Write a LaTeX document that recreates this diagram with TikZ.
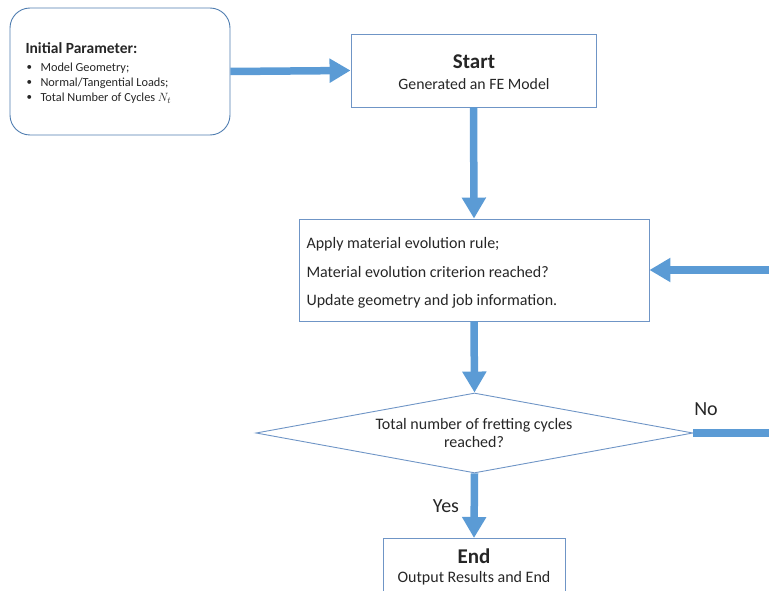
\documentclass[tikz,border=0pt]{standalone}
\usepackage{fontspec}
\setmainfont{Carlito}
\usetikzlibrary{arrows.meta,shapes.geometric}
\definecolor{flowblue}{HTML}{5B9BD5}
\definecolor{boxline}{HTML}{6F95C6}
\definecolor{roundline}{HTML}{4F7DB0}
\definecolor{txt}{HTML}{262626}
\begin{document}
\begin{tikzpicture}[x=1pt,y=-1pt,
  flow/.style={draw=flowblue,line width=7.5pt,-{Triangle[length=21pt,width=23pt]}},
  plainflow/.style={draw=flowblue,line width=7.5pt},
  procbox/.style={draw=boxline,line width=0.9pt,rectangle,inner sep=0pt},
  decision/.style={draw=boxline,line width=0.9pt,diamond,inner sep=0pt},
  inputbox/.style={draw=roundline,line width=0.9pt,rectangle,rounded corners=20pt,inner sep=0pt},
  every node/.style={text=txt}]
\useasboundingbox (0,0) rectangle (769,591);
\clip (0,0) rectangle (769,591);

% boxes
\node[inputbox,minimum width=220pt,minimum height=127pt] (init) at (120,71.5) {};
\node[procbox,minimum width=245pt,minimum height=73pt] (start) at (473.5,70.5) {};
\node[procbox,minimum width=350pt,minimum height=102pt] (apply) at (474,270) {};
\node[decision,minimum width=437pt,minimum height=80pt] (check) at (474.5,433) {};
\node[procbox,minimum width=182pt,minimum height=80pt,anchor=north] (finish) at (474,538) {};

% texts of the input box
\node[anchor=west,font=\fontsize{15.5}{18}\selectfont\bfseries] (initT) at (22,48) {Initial Parameter:};
\node[anchor=west,font=\fontsize{11}{12}\selectfont] (b1) at (23,68) {\textbullet};
\node[anchor=west,font=\fontsize{11}{12}\selectfont] (b2) at (23,83) {\textbullet};
\node[anchor=west,font=\fontsize{11}{12}\selectfont] (b3) at (23,98) {\textbullet};
\node[anchor=west,font=\fontsize{12.3}{14}\selectfont] (i1) at (37,68) {Model Geometry;};
\node[anchor=west,font=\fontsize{12.3}{14}\selectfont] (i2) at (37,83) {Normal/Tangential Loads;};
\node[anchor=west,font=\fontsize{12.3}{14}\selectfont] (i3) at (37,98) {Total Number of Cycles $N_t$};

% start box texts
\node[font=\fontsize{21}{24}\selectfont\bfseries] (startT) at (474,62) {Start};
\node[font=\fontsize{15.8}{18}\selectfont] (startS) at (474,84) {Generated an FE Model};

% process box texts
\node[anchor=west,font=\fontsize{16}{18}\selectfont] (a1) at (303,244) {Apply material evolution rule;};
\node[anchor=west,font=\fontsize{16}{18}\selectfont] (a2) at (303,272) {Material evolution criterion reached?};
\node[anchor=west,font=\fontsize{16}{18}\selectfont] (a3) at (303,301) {Update geometry and job information.};

% decision text
\node[font=\fontsize{16}{18}\selectfont,align=center] (checkT) at (474,433) {Total number of fretting cycles\\reached?};

% end box texts
\node[font=\fontsize{21}{24}\selectfont\bfseries] (endT) at (474,556) {End};
\node[font=\fontsize{16}{18}\selectfont] (endS) at (474,578) {Output Results and End};

% branch labels
\node[font=\fontsize{20}{23}\selectfont] (no) at (706,409) {No};
\node[font=\fontsize{20}{23}\selectfont] (yes) at (446,506) {Yes};

% connectors
\coordinate (loopin) at (769,270);
\coordinate (loopout) at (769,433);
\draw[flow] (init.east) -- (start.west);
\draw[flow] (start.south) -- (apply.north);
\draw[flow] (apply.south) -- (check.north);
\draw[flow] (check.south) -- (finish.north);
\draw[plainflow] (check.east) -- (loopout);
\draw[flow] (loopin) -- (apply.east);
\end{tikzpicture}
\end{document}
